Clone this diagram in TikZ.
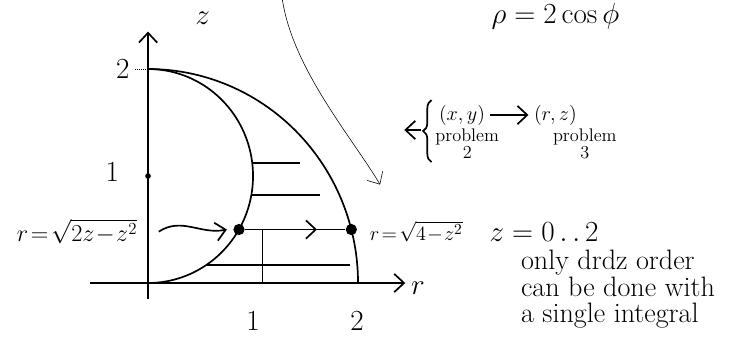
\documentclass[tikz,border=0pt]{standalone}
\usepackage{amsmath}
\usepackage{amssymb}
\usetikzlibrary{arrows.meta,decorations.markings,decorations.pathreplacing}
\newcommand{\rInner}{\sqrt{2z\!-\!z^2}}
\newcommand{\rOuter}{\sqrt{4\!-\!z^2}}
\newcommand{\bigfont}{\fontsize{20}{19}\selectfont}
\newcommand{\midfont}{\fontsize{15}{16}\selectfont}
\newcommand{\smallfont}{\fontsize{13}{12}\selectfont}

\begin{document}
\begin{tikzpicture}[x=2.625cm,y=2.675cm,line width=1.2pt,
  >={Straight Barb[length=7pt,width=13pt]},
  every node/.style={font=\bigfont},
  dot/.style={circle,fill,inner sep=0pt,minimum size=8pt},
  midarrow/.style={postaction={decorate},
    decoration={markings,mark=at position 0.72 with {\arrow{>}}}}]
 \useasboundingbox (-1.41,-0.523) rectangle (5.657,2.645);
 % axes
 \draw[->] (0,-0.15) -- (0,2.35);
 \draw[->] (-0.55,0) -- (2.45,0);
 \node (zlab) at (0.52,2.47) {$z$};
 \node (rlab) at (2.57,-0.05) {$r$};
 \draw[densely dotted,thin] (-0.12,2) -- (0,2);
 \node (ztwo) at (-0.24,2.0) {$2$};
 \node[dot,minimum size=4pt] (zone) at (0,1) {};
 \node (zonelab) at (-0.34,1.04) {$1$};
 \node (rone) at (1,-0.36) {$1$};
 \node (rtwo) at (1.99,-0.36) {$2$};
 % the two boundary curves
 \draw plot[domain=0:90,samples=60] ({2*cos(\x)},{2*sin(\x)});
 \draw plot[domain=-90:90,samples=80] ({cos(\x)},{1+sin(\x)});
 % strips
 \draw (0.993,1.12) -- (1.45,1.12);
 \draw (0.984,0.82) -- (1.64,0.82);
 \draw (0.558,0.17) -- (1.92,0.17);
 \draw[thin] (1.09,0) -- (1.09,0.5);
 \node[dot] (inner) at (0.866,0.5) {};
 \node[dot] (outer) at (1.936,0.5) {};
 \draw[midarrow] (inner) -- (outer);
 % labels of the curves
 \node[anchor=east,font=\fontsize{18}{18}\selectfont] (innerlab) at (-0.05,0.48) {$r\!=\!\rInner$};
 \node[anchor=west,font=\midfont] (outerlab) at (2.06,0.48) {$r\!=\!\rOuter$};
 \node[anchor=west] (zrange) at (3.2,0.48) {$z=0\,.\,.\,2$};
 \node[anchor=north west,align=left] (note) at (3.5,0.36)
   {only drdz order\\can be done with\\a single integral};
 \draw[->] ([xshift=0.4cm]innerlab.east) .. controls (0.32,0.62) and (0.5,0.45) .. ([xshift=-4pt]inner.west);
 % arrow coming from above
 \node (rho) at (3.88,2.49) {$\rho=2\cos\phi$};
 \coordinate (top) at (1.28,2.645);
 \draw[->,thin] (top) .. controls (1.38,2.0) and (1.95,1.35) .. (2.21,0.92);
 % problem 2 and problem 3
 \node[font=\midfont] (xy) at (2.99,1.57) {$(x,y)$};
 \node[font=\midfont] (rz) at (3.88,1.57) {$(r,z)$};
 \draw[->] (xy) -- (rz);
 \node[font=\smallfont,align=center] (probtwo) at (3.04,1.3) {problem\\2};
 \node[font=\smallfont,align=center] (probthree) at (4.16,1.3) {problem\\3};
 \draw[decorate,decoration={brace,amplitude=6pt}] (2.7,1.13) -- (2.7,1.71);
 \coordinate (bracetip) at (2.6,1.43);
 \coordinate (leftend) at (2.44,1.43);
 \draw[->] (bracetip) -- (leftend);
\end{tikzpicture}
\end{document}
